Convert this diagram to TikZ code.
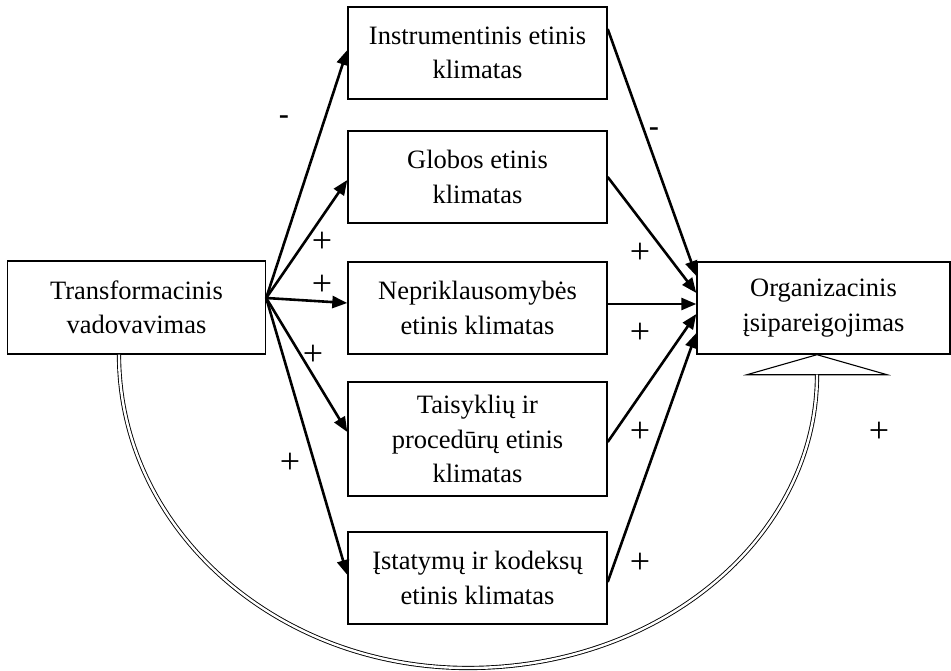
\documentclass[tikz,border=0pt]{standalone}
\usepackage{fontspec}
\setmainfont{Liberation Serif}
\setsansfont{Liberation Sans}
\usetikzlibrary{arrows.meta,calc}
\begin{document}
\begin{tikzpicture}[x=1pt,y=-1pt,
  box/.style={draw, line width=1.4pt, minimum width=259pt, minimum height=92pt, inner sep=0pt, align=center, font=\fontsize{26.5}{34.5}\selectfont},
  arr/.style={line width=2.6pt, -{Triangle[length=15pt,width=12pt]}},
  plussign/.style={font=\fontsize{36}{36}\selectfont, inner sep=0pt},
  minussign/.style={font=\sffamily\fontsize{32}{32}\selectfont, inner sep=0pt},
  feedback/.style={double, double distance=2.4pt, line width=0.9pt}]
\useasboundingbox (0,0) rectangle (951,671);
% nodes
\node[box, minimum width=258pt, minimum height=93pt] (tv) at (136.5,307.5) {Transformacinis\\vadovavimas};
\node[box] (ins) at (477.5,53) {Instrumentinis etinis\\klimatas};
\node[box] (glo) at (477.5,177) {Globos etinis\\klimatas};
\node[box] (nep) at (477.5,308) {Nepriklausomybės\\etinis klimatas};
\node[box, minimum height=114pt] (tai) at (477.5,439) {Taisyklių ir\\procedūrų etinis\\klimatas};
\node[box] (ist) at (477.5,578) {Įstatymų ir kodeksų\\etinis klimatas};
\node[box, minimum width=253pt] (org) at (823.5,308) {Organizacinis\\įsipareigojimas};
% arrows from leadership
\coordinate (src) at ($(tv.east)+(0,-9.5)$);
\draw[arr] (src) -- ($(ins.west)+(0,-3)$);
\draw[arr] (src) -- ($(glo.west)+(0,3)$);
\draw[arr] (src) -- ($(nep.west)+(0,-5)$);
\draw[arr] (src) -- ($(tai.west)+(0,-7)$);
\draw[arr] (src) -- ($(ist.west)+(0,-3)$);
% arrows to commitment
\draw[arr] ($(ins.east)+(0,-24)$) -- ($(org.west)+(0,-32)$);
\draw[arr] (glo.east) -- ($(org.west)+(0,-15)$);
\draw[arr] ($(nep.east)+(0,-4)$) -- ($(org.west)+(0,-4)$);
\draw[arr] ($(tai.east)+(0,3)$) -- ($(org.west)+(0,6)$);
\draw[arr] ($(ist.east)+(0,4)$) -- ($(org.west)+(0,25)$);
% direct effect (hollow arrow with double line)
\coordinate (arcA) at ($(tv.south)+(-17.5,0)$);
\coordinate (arcB) at ($(org.south)+(-6.5,20)$);
\coordinate (arcBot) at (468,668);
\draw[line width=1.1pt, fill=white] ($(org.south)+(-76.5,20)$) -- ($(org.south)+(-6.5,0)$) -- ($(org.south)+(63.5,20)$) -- cycle;
\draw[feedback] (arcA) .. controls ($(arcA)+(0,173.4)$) and ($(arcBot)+(-192.8,0)$) .. (arcBot)
  .. controls ($(arcBot)+(192.8,0)$) and ($(arcB)+(0,162.4)$) .. (arcB);
% signs
\node[minussign] (m1) at (284,121) {-};
\node[minussign] (m2) at (654,133) {-};
\node[plussign] (p1) at (322,242) {+};
\node[plussign] (p2) at (322,285) {+};
\node[plussign] (p3) at (313,355) {+};
\node[plussign] (p4) at (290,463) {+};
\node[plussign] (p5) at (640,253) {+};
\node[plussign] (p6) at (640,333) {+};
\node[plussign] (p7) at (640,432) {+};
\node[plussign] (p8) at (640,563) {+};
\node[plussign] (p9) at (879,432) {+};
\end{tikzpicture}
\end{document}
